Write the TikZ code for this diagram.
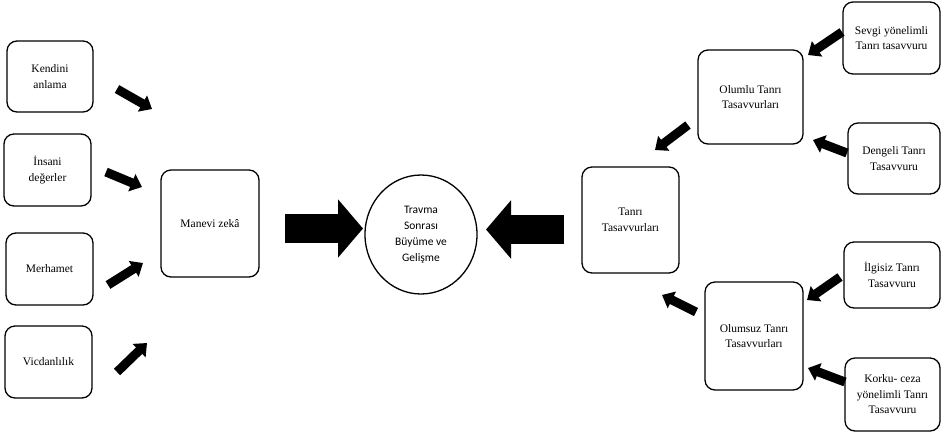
\documentclass[tikz,border=0pt]{standalone}
\usepackage{fontspec}
\usetikzlibrary{shapes.geometric,arrows.meta}
\newfontfamily\tnrfont{Liberation Serif}
\newfontfamily\carlfont{Carlito}
\begin{document}
\begin{tikzpicture}[x=1pt,y=-1pt,
  box/.style={draw, line width=1.3pt, rounded corners=10pt, align=center, inner sep=0pt,
    font=\tnrfont\fontsize{11.5}{15.5}\selectfont},
  oval/.style={draw, ellipse, line width=1.3pt, align=center, inner sep=0pt,
    font=\carlfont\fontsize{11.5}{16}\selectfont},
  sarrow/.style={line width=9pt, -{Triangle[width=18pt,length=11pt]}},
  barrow/.style={line width=28.5pt, -{Triangle[width=57pt,length=25pt]}}]
\useasboundingbox (0,0) rectangle (941,432);
% left boxes
\node[box, minimum width=86pt, minimum height=71pt] (kend) at (50,76.5) {Kendini\\anlama};
\node[box, minimum width=87pt, minimum height=72pt] (insani) at (47.5,170) {İnsani\\değerler};
\node[box, minimum width=87pt, minimum height=72pt] (merh) at (49.5,269) {Merhamet};
\node[box, minimum width=87pt, minimum height=72pt] (vicd) at (48.5,362) {Vicdanlılık};
\node[box, minimum width=98pt, minimum height=107pt] (manevi) at (210,223.5) {Manevi zekâ};
% center
\node[oval, minimum width=112pt, minimum height=119pt] (tsb) at (421,234.5) {Travma\\Sonrası\\Büyüme ve\\Gelişme};
% right boxes
\node[box, minimum width=97pt, minimum height=106pt] (tanri) at (630.5,220) {Tanrı\\Tasavvurları};
\node[box, minimum width=105pt, minimum height=94pt] (olumlu) at (750.5,97) {Olumlu Tanrı\\Tasavvurları};
\node[box, minimum width=98pt, minimum height=108pt] (olumsuz) at (754,336) {Olumsuz Tanrı\\Tasavvurları};
\node[box, minimum width=97pt, minimum height=72pt] (sevgi) at (891.5,38) {Sevgi yönelimli\\Tanrı tasavvuru};
\node[box, minimum width=92pt, minimum height=71pt] (dengeli) at (894,158.5) {Dengeli Tanrı\\Tasavvuru};
\node[box, minimum width=96pt, minimum height=66pt] (ilgisiz) at (892,275) {İlgisiz Tanrı\\Tasavvuru};
\node[box, minimum width=95pt, minimum height=73pt] (korku) at (892.5,394.5) {Korku- ceza\\yönelimli Tanrı\\Tasavvuru};
% arrow end coordinates
\coordinate (a1s) at (117,89);  \coordinate (a1e) at (152,109);
\coordinate (a2s) at (106,172); \coordinate (a2e) at (142,187);
\coordinate (a3s) at (108,285); \coordinate (a3e) at (143,263);
\coordinate (a4s) at (117,372); \coordinate (a4e) at (147,343);
\coordinate (b1s) at (285,228.5); \coordinate (b1e) at (363,228.5);
\coordinate (b2s) at (564,229.5); \coordinate (b2e) at (486,229.5);
\coordinate (r1s) at (842,32);  \coordinate (r1e) at (808,55);
\coordinate (r2s) at (847,153); \coordinate (r2e) at (813,140);
\coordinate (r3s) at (688,125); \coordinate (r3e) at (655,150);
\coordinate (r4s) at (840,277); \coordinate (r4e) at (807,300);
\coordinate (r5s) at (845,382); \coordinate (r5e) at (808,368);
\coordinate (r6s) at (696,312); \coordinate (r6e) at (662,295);
% arrows
\draw[sarrow] (a1s) -- (a1e);
\draw[sarrow] (a2s) -- (a2e);
\draw[sarrow] (a3s) -- (a3e);
\draw[sarrow] (a4s) -- (a4e);
\draw[barrow] (b1s) -- (b1e);
\draw[barrow] (b2s) -- (b2e);
\draw[sarrow] (r1s) -- (r1e);
\draw[sarrow] (r2s) -- (r2e);
\draw[sarrow] (r3s) -- (r3e);
\draw[sarrow] (r4s) -- (r4e);
\draw[sarrow] (r5s) -- (r5e);
\draw[sarrow] (r6s) -- (r6e);
\end{tikzpicture}
\end{document}
